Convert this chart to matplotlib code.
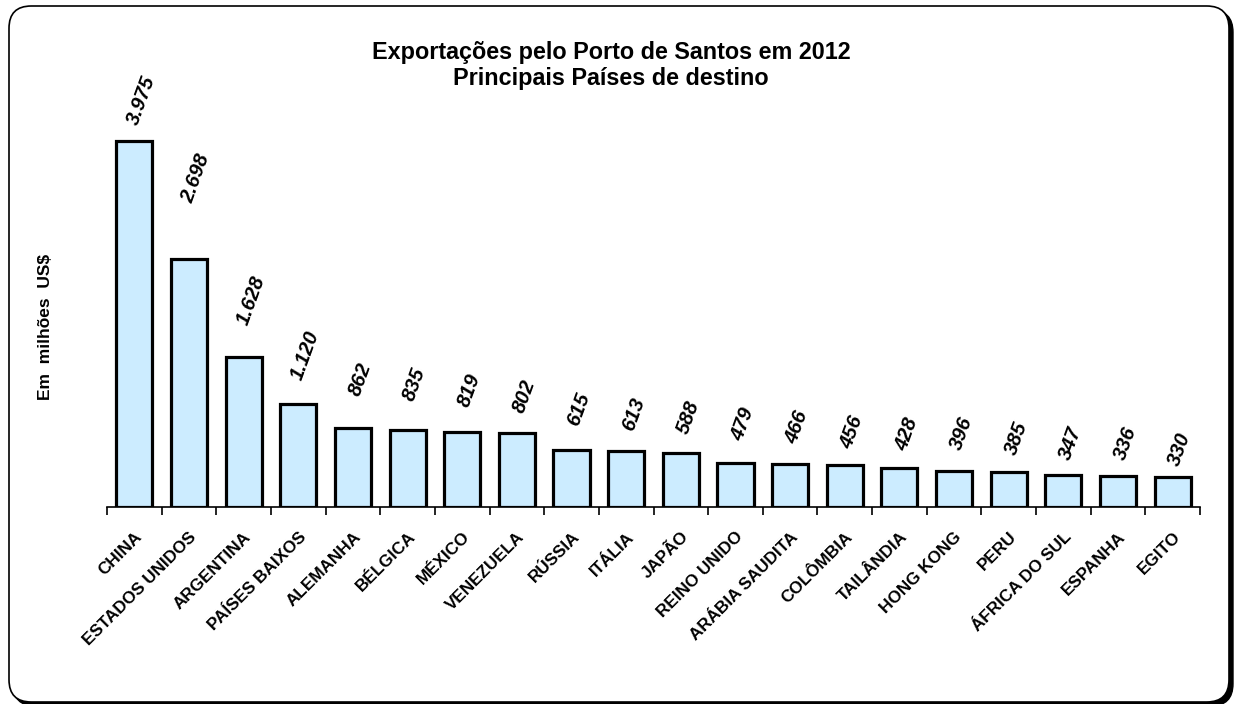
import matplotlib.pyplot as plt
from matplotlib.patches import FancyBboxPatch

paises = ["CHINA", "ESTADOS UNIDOS", "ARGENTINA", "PAÍSES BAIXOS", "ALEMANHA",
          "BÉLGICA", "MÉXICO", "VENEZUELA", "RÚSSIA", "ITÁLIA", "JAPÃO",
          "REINO UNIDO", "ARÁBIA SAUDITA", "COLÔMBIA", "TAILÂNDIA", "HONG KONG",
          "PERU", "ÁFRICA DO SUL", "ESPANHA", "EGITO"]
valores = [3975, 2698, 1628, 1120, 862, 835, 819, 802, 615, 613, 588,
           479, 466, 456, 428, 396, 385, 347, 336, 330]
rotulos = ["3.975", "2.698", "1.628", "1.120", "862", "835", "819", "802", "615",
           "613", "588", "479", "466", "456", "428", "396", "385", "347", "336", "330"]

# gap (px) between bar top and its label, as placed in the original
folga = [14, 53, 30, 22, 29, 27, 22, 18, 22, 17, 16, 20, 18, 14, 14, 18, 14, 13, 14, 8]

plt.rcParams["font.family"] = ["Liberation Sans", "DejaVu Sans"]

W, H = 1237, 704
fig = plt.figure(figsize=(W / 100, H / 100), dpi=100)

# rounded frame with shadow (kept behind the axes)
shadow = FancyBboxPatch((13 / W, -2 / H), 1220 / W, 696 / H,
                        boxstyle="round,pad=0,rounding_size=0.018",
                        transform=fig.transFigure, facecolor="black",
                        edgecolor="black", mutation_aspect=W / H, zorder=-10)
frame = FancyBboxPatch((9 / W, 2 / H), 1220 / W, 696 / H,
                       boxstyle="round,pad=0,rounding_size=0.018",
                       transform=fig.transFigure, facecolor="white",
                       edgecolor="black", linewidth=1.2, mutation_aspect=W / H,
                       zorder=-9)
fig.patches.extend([shadow, frame])

# axes: baseline at y=507 px, x from 107 to 1200 px
ax = fig.add_axes([107 / W, (H - 507) / H, (1200 - 107) / W, 450 / H])
ax.set_facecolor("none")
ymax = 450 / (366 / 3975)
ax.set_ylim(0, ymax)
ax.set_xlim(-0.5, len(paises) - 0.5)

x = range(len(paises))
ax.bar(x, valores, width=0.66, color="#CCECFF", edgecolor="black", linewidth=2.3)

for i, (v, r, g) in enumerate(zip(valores, rotulos, folga)):
    ax.annotate(r, (i, v), xytext=(5.2, g * 0.72), textcoords="offset points",
                rotation=70, ha="center", va="bottom", fontsize=14.5,
                fontweight="bold", fontstyle="italic")

for s in ["top", "right", "left"]:
    ax.spines[s].set_visible(False)
ax.spines["bottom"].set_linewidth(1.2)
ax.set_yticks([])
ax.set_xticks([i - 0.5 for i in range(len(paises) + 1)], minor=False)
ax.set_xticklabels([])
ax.tick_params(axis="x", direction="out", length=6, width=1.2)
ax.set_xticks(list(x), minor=True)
ax.set_xticklabels(paises, minor=True, rotation=45, ha="right", va="top",
                   rotation_mode="anchor", fontsize=12.3, fontweight="bold")
ax.tick_params(axis="x", which="minor", length=0, pad=16)

fig.text(611 / W, 1 - 59 / H, "Exportações pelo Porto de Santos em 2012",
         ha="center", va="baseline", fontsize=16.8, fontweight="bold")
fig.text(611 / W, 1 - 85 / H, "Principais Países de destino",
         ha="center", va="baseline", fontsize=16.8, fontweight="bold")
fig.text(46 / W, 1 - 327 / H, "Em  milhões  US$", rotation=90,
         ha="center", va="center", fontsize=12.5, fontweight="bold")

fig.savefig("out.png", dpi=100)
